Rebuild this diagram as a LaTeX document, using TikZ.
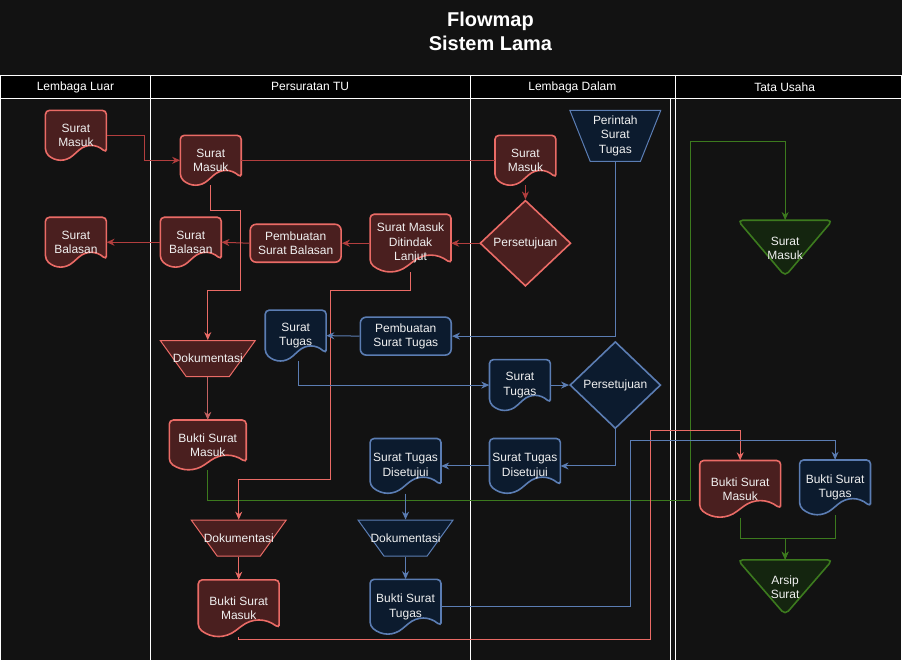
\documentclass[tikz,border=0pt]{standalone}
\usepackage{fontspec}
\setmainfont{Liberation Sans}
\usetikzlibrary{shapes.geometric,arrows.meta}
\definecolor{pagebg}{HTML}{121212}
\definecolor{redfill}{HTML}{4A1F1F}
\definecolor{redline}{HTML}{EA6B66}
\definecolor{redflow}{HTML}{B23E3E}
\definecolor{redsoft}{HTML}{C46262}
\definecolor{bluefill}{HTML}{0C1B2E}
\definecolor{blueline}{HTML}{5B7DB3}
\definecolor{greenfill}{HTML}{14250F}
\definecolor{greenline}{HTML}{3C7A1E}
\definecolor{nodetext}{HTML}{F0F0F0}
\newcommand{\docu}[7]{%
 \draw[#1,rounded corners=4pt] ({#3+#5/2},{#4+0.35*#6}) -- ({#3+#5/2},{#4-#6/2}) -- ({#3-#5/2},{#4-#6/2}) -- ({#3-#5/2},{#4+0.35*#6}) .. controls ({#3-#5/3},{#4+0.53*#6}) and ({#3-#5/6},{#4+0.53*#6}) .. (#3,{#4+0.35*#6}) .. controls ({#3+#5/6},{#4+0.17*#6}) and ({#3+#5/3},{#4+0.17*#6}) .. cycle;
 \node[lbl,minimum width=#5,minimum height=#6] (#2) at (#3,#4) {#7};}
\newcommand{\tria}[7]{%
 \draw[#1,rounded corners=5pt] ({#3-#5/2},{#4-#6/2}) -- ({#3+#5/2},{#4-#6/2}) -- (#3,{#4+#6/2}) -- cycle;
 \node[lbl,minimum width=#5,minimum height=#6] (#2) at (#3,#4) {#7};}
\begin{document}
\begin{tikzpicture}[x=1pt,y=-1pt,
 lbl/.style={text=nodetext,align=center,font=\fontsize{12}{14.4}\selectfont,inner sep=0pt},
 redbox/.style={draw=redline,fill=redfill,line width=1.6pt},
 bluebox/.style={draw=blueline,fill=bluefill,line width=1.6pt},
 greenbox/.style={draw=greenline,fill=greenfill,line width=1.6pt},
 proc/.style={lbl,rectangle,rounded corners=6pt,minimum width=91,minimum height=38},
 trap/.style={lbl,inner sep=2pt,trapezium,shape border rotate=180,trapezium stretches=true,minimum width=95,minimum height=36,trapezium left angle=59,trapezium right angle=59},
 thin/.style={line width=1pt},
 decide/.style={lbl,diamond,minimum width=91,minimum height=86},
 lane/.style={draw=white,line width=1pt},
 head/.style={text=white,font=\fontsize{12}{14.4}\selectfont},
 flow/.style={line width=1pt,-{Stealth[length=8pt,width=7pt]}},
 rflow/.style={flow,draw=redflow},
 lflow/.style={flow,draw=redline},
 sflow/.style={flow,draw=redsoft},
 bflow/.style={flow,draw=blueline},
 gflow/.style={flow,draw=greenline}]
 \fill[pagebg] (0,0) rectangle (902,661);
 \fill[black] (0,75) rectangle (902,98);
 \node[text=white,font=\bfseries\fontsize{20}{24}\selectfont,align=center] (title) at (490.5,31) {Flowmap\\Sistem Lama};
 \draw[lane] (0.5,661) -- (0.5,75.5) -- (901.5,75.5) -- (901.5,661);
 \draw[lane] (0,98.5) -- (902,98.5);
 \draw[lane] (150.5,75) -- (150.5,661);
 \draw[lane] (470.5,75) -- (470.5,661);
 \draw[lane] (675.5,75) -- (675.5,661);
 \draw[lane] (670.5,98) -- (670.5,661);
 \node[head] (hluar) at (75,87) {Lembaga Luar};
 \node[head] (htu) at (310,87) {Persuratan TU};
 \node[head] (hdalam) at (572.5,87) {Lembaga Dalam};
 \node[head] (husaha) at (785,87) {Tata Usaha};
 \begin{scope}[shift={(0,0.5)}]
 \docu{redbox}{llmasuk}{75.5}{135}{61}{50}{Surat\\Masuk}
 \docu{redbox}{llbalas}{75.5}{242}{61}{50}{Surat\\Balasan}
 \docu{redbox}{tumasuk}{210.5}{160}{61}{50}{Surat\\Masuk}
 \docu{redbox}{tubalas}{190.5}{242}{61}{50}{Surat\\Balasan}
 \node[proc,redbox] (buatbalas) at (295.5,243) {Pembuatan\\Surat Balasan};
 \docu{redbox}{tindak}{410.5}{243}{81}{58}{Surat Masuk\\Ditindak\\Lanjut}
 \docu{redbox}{ldmasuk}{525.5}{160}{61}{50}{Surat\\Masuk}
 \node[decide,redbox] (setuju1) at (525.5,243) {Persetujuan};
 \node[trap,bluebox,thin,minimum width=91,minimum height=51,trapezium left angle=68,trapezium right angle=68,label={[lbl]center:{Perintah\\Surat\\Tugas}}] (perintah) at (615.5,135.5) {};
 \tria{greenbox}{tsuratmasuk}{785.5}{248}{95}{56}{Surat\\Masuk}
 \node[trap,redbox,thin,label={[lbl]center:Dokumentasi}] (tudok) at (207.5,358.5) {};
 \docu{redbox}{tubukti}{207.5}{445}{77}{50}{Bukti Surat\\Masuk}
 \docu{bluebox}{tutugas}{295.5}{335.5}{61}{51}{Surat\\Tugas}
 \node[proc,bluebox] (buattugas) at (405.7,336) {Pembuatan\\Surat Tugas};
 \docu{bluebox}{ldtugas}{520}{385}{61}{51}{Surat\\Tugas}
 \node[decide,bluebox,minimum height=87] (setuju2) at (615.5,385) {Persetujuan};
 \docu{bluebox}{ldstd}{525}{466}{71}{55}{Surat Tugas\\Disetujui}
 \docu{bluebox}{tustd}{405.5}{466}{71}{55}{Surat Tugas\\Disetujui}
 \node[trap,bluebox,thin,label={[lbl]center:Dokumentasi}] (tudok3) at (405.5,538.2) {};
 \docu{bluebox}{tubst}{405.5}{607}{71}{55}{Bukti Surat\\Tugas}
 \node[trap,redbox,thin,label={[lbl]center:Dokumentasi}] (tudok2) at (238.5,538.2) {};
 \docu{redbox}{tubukti2}{238.5}{608.5}{81}{57}{Bukti Surat\\Masuk}
 \docu{redbox}{tabukti}{740.5}{489}{81}{57}{Bukti Surat\\Masuk}
 \docu{bluebox}{tabst}{835.5}{487.5}{71}{55}{Bukti Surat\\Tugas}
 \tria{greenbox}{arsip}{785.5}{587.5}{95}{55}{Arsip\\Surat}
 \draw[rflow] (llmasuk.east) -- ++(37.5,0) |- (tumasuk.west);
 \draw[line width=1pt,draw=redflow] (tumasuk.east) -- (ldmasuk.west);
 \draw[rflow] (ldmasuk.south) -- (setuju1.north);
 \draw[rflow] (setuju1.west) -- (tindak.east);
 \draw[rflow] (tindak.west) -- (buatbalas.east);
 \draw[rflow] (buatbalas.west) -- (tubalas.east);
 \draw[rflow] (tubalas.west) -- (llbalas.east);
 \draw[lflow] (tumasuk.south) -- ++(0,25) -- ++(30,0) -- ++(0,80) -| (tudok.north);
 \draw[sflow] (tudok.south) -- (tubukti.north);
 \draw[gflow] (tubukti.south) -- ++(0,30) -| (690.5,141) -| (tsuratmasuk.north);
 \draw[lflow] (tindak.south) -- ++(0,18) -| (330.5,480) -| (tudok2.north);
 \draw[lflow] (tudok2.south) -- (tubukti2.north);
 \draw[lflow] (tubukti2.south) -- ++(0,3) -| (650.5,430) -| (tabukti.north);
 \draw[bflow] (perintah.south) |- (buattugas.east);
 \draw[bflow] (buattugas.west) -- (tutugas.east);
 \draw[bflow] ([xshift=3pt]tutugas.south) |- (ldtugas.west);
 \draw[bflow] (ldtugas.east) -- (setuju2.west);
 \draw[bflow] (setuju2.south) |- (ldstd.east);
 \draw[bflow] (ldstd.west) -- (tustd.east);
 \draw[bflow] (tustd.south) -- (tudok3.north);
 \draw[bflow] (tudok3.south) -- (tubst.north);
 \draw[bflow] (tubst.east) -| (630.5,440) -| (tabst.north);
 \draw[gflow] (tabukti.south) -- ++(0,20.5) -| (arsip.north);
 \draw[gflow] (tabst.south) -- ++(0,23) -| (arsip.north);
 \end{scope}
\end{tikzpicture}
\end{document}
